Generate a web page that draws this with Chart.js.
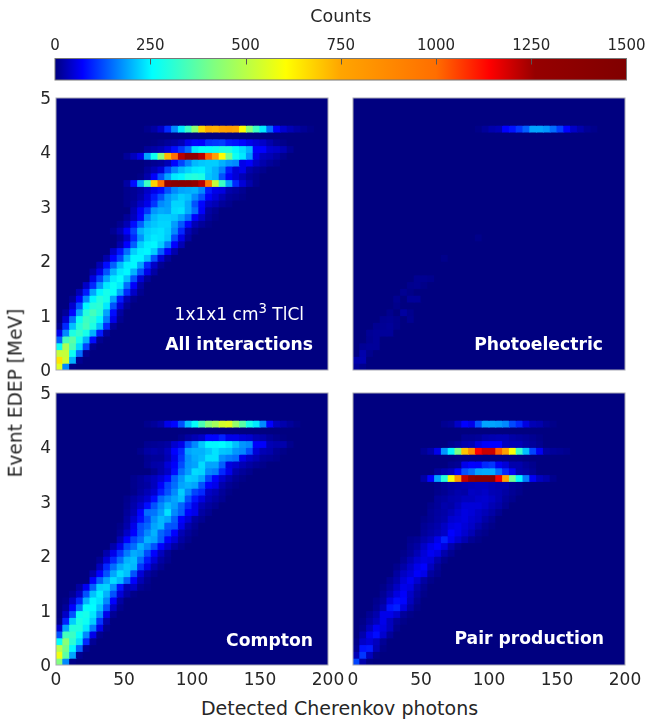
<!DOCTYPE html>
<html><head><meta charset="utf-8">
<script src="https://cdn.jsdelivr.net/npm/chart.js@4"></script>
<style>
html,body{margin:0;padding:0;background:#fff;width:645px;height:721px;overflow:hidden;font-family:"DejaVu Sans",sans-serif;color:#262626}
canvas{position:absolute}
.t{position:absolute;white-space:nowrap;line-height:1}
.w{color:#fff}
.b{font-weight:bold}
sup{font-size:78%;line-height:0;vertical-align:0.5em}
</style></head><body>
<script>
// Each row entry: [energy row index, first photon-bin index, counts...]
const allRows = [
[0,0,560,170,5],
[1,0,650,530,200,10],
[2,0,520,520,270,150,10],
[3,0,270,480,350,230,120,10],
[4,0,140,340,370,280,200,80,10],
[5,0,60,170,290,320,280,200,90,15],
[6,0,10,100,210,300,340,290,210,100,15],
[7,1,45,150,270,330,310,250,160,60,10],
[8,1,15,75,190,300,340,300,190,80,20],
[9,2,45,130,250,300,310,240,130,50,12],
[10,2,15,70,170,250,300,280,190,90,30,8],
[11,3,30,90,190,250,280,260,190,100,40,10],
[12,4,40,100,180,240,265,240,150,70,20],
[13,5,55,120,190,240,260,210,130,50,15],
[14,5,20,60,130,200,240,250,200,130,60,20],
[15,6,30,80,140,205,245,250,190,100,40,10],
[16,7,25,72,120,200,250,250,210,130,50,15],
[17,8,40,85,150,220,245,250,220,140,70,25],
[18,9,25,72,140,220,245,250,220,160,72,30],
[19,9,12,40,100,175,225,240,235,215,125,60,18],
[20,8,10,30,70,120,200,220,230,235,220,170,100,30,10],
[21,9,10,30,80,140,200,215,225,225,185,135,75,30,15,5],
[22,10,15,35,75,165,205,220,220,215,190,150,70,40,15,5],
[23,11,30,70,110,180,195,190,230,235,195,150,70,20,10],
[24,10,8,18,40,60,110,170,185,225,225,195,130,75,40,30,15,8],
[25,10,8,12,25,50,90,130,180,200,220,210,170,130,70,50,30,15,10,5],
[26,10,8,12,20,40,60,80,130,170,190,195,200,170,90,60,55,25,18,10],
[27,10,20,80,190,330,680,1000,1300,1400,1420,1400,1300,1220,950,520,330,190,100,50,25,8],
[28,12,5,25,70,130,190,240,250,290,300,290,215,200,130,70,50,30,15,8],
[29,13,15,30,50,120,170,205,225,240,245,220,200,165,90,50,60,25,15,8],
[30,13,5,10,15,30,75,120,165,205,215,220,220,200,180,170,60,70,40,25,15,8],
[31,10,15,35,60,190,270,430,720,1000,1220,1300,1320,1220,1020,780,610,400,270,240,180,60,35,30,20,8],
[32,13,15,22,30,50,80,110,150,240,260,260,270,290,290,250,230,200,72,72,45,40,30,12],
[33,14,3,8,15,20,30,60,75,72,105,110,115,90,85,75,60,50,40,25,12,6],
[35,13,8,20,40,100,170,240,330,440,670,740,730,770,790,760,610,430,330,240,150,72,45,30,20,12,5]
];
const photoRows = [
[0,0,15,8],
[1,0,25,28],
[2,1,25,8],
[3,1,12,15,15],
[4,2,10,15],
[5,2,12,15,15,15],
[6,3,10,12,15,8],
[7,4,10,12,8,0,10],
[8,5,8,0,18,8],
[9,6,6],
[10,6,10,0,15,15],
[11,7,10,5],
[12,8,8,10,5],
[13,9,10,10,8],
[16,13,6],
[19,18,6],
[35,18,5,15,25,30,72,85,110,140,190,190,180,150,115,72,40,25,12,6]
];
const comptonRows = [
[0,0,420,170,5],
[1,0,580,370,190,10],
[2,0,500,400,250,140,12],
[3,0,260,430,310,230,100,12],
[4,0,130,340,330,260,170,60,8],
[5,0,45,190,300,300,240,160,60,8],
[6,0,5,95,220,290,270,220,110,25],
[7,1,40,130,270,280,240,170,60,12],
[8,1,15,72,160,260,255,210,130,40,8],
[9,1,5,40,100,200,250,235,170,72,20],
[10,2,12,40,130,210,245,200,130,50,20,5],
[11,3,20,65,140,220,225,175,85,30,40,12,5],
[12,5,72,140,190,230,205,140,72,30,10],
[13,5,25,72,130,190,230,210,130,50,20,8],
[14,6,35,100,150,195,215,205,110,60,25,10],
[15,6,12,50,100,150,200,210,150,90,50,20,8],
[16,7,25,60,110,160,195,185,125,72,35,12],
[17,8,25,60,125,150,200,170,130,72,45,20,8],
[18,9,30,72,120,150,200,190,140,72,50,20,8],
[19,9,12,40,72,130,170,200,145,120,72,30,15,5],
[20,9,6,25,60,125,145,190,205,135,130,60,25,12],
[21,10,20,45,80,125,175,205,190,140,72,50,20,10],
[22,10,15,30,72,150,155,185,235,170,140,72,60,20,10],
[23,10,10,25,45,80,130,170,205,185,145,100,60,30,18,10],
[24,10,8,20,30,45,80,145,170,190,210,130,85,55,30,20,10],
[25,11,6,18,30,45,90,130,170,220,170,120,100,40,30,15,5],
[26,11,8,15,20,35,70,120,150,190,200,190,130,72,60,25,12,5],
[27,11,8,15,25,35,50,75,140,180,220,215,190,120,72,45,25,12,5],
[28,14,10,25,40,80,150,185,230,225,170,160,100,60,25,15,8],
[29,13,12,22,25,50,70,125,180,190,230,190,190,140,55,45,30,20,12,6],
[30,13,10,15,15,30,60,110,175,195,205,235,235,175,160,150,60,40,30,15,12,8],
[31,12,8,20,25,20,35,72,100,190,200,200,215,235,215,210,180,170,130,50,30,25,12,5],
[32,13,10,12,15,20,45,60,130,170,215,250,250,255,240,210,180,170,70,70,30,25,25,8],
[33,18,8,20,30,40,75,75,95,60,60,50,45,30,25,15,8,3],
[35,13,8,15,25,60,75,130,210,260,350,430,470,540,560,450,370,280,240,170,72,35,25,15,6]
];
const pairRows = [
[0,0,120,25,3],
[1,0,30,110,35,5],
[2,0,10,85,90,30,5],
[3,0,5,40,50,35,12],
[4,1,25,60,80,45,15],
[5,1,10,35,65,55,35,8],
[6,1,5,20,35,60,35,15,5],
[7,2,12,25,60,60,45,15,5],
[8,3,12,30,85,95,55,22,5],
[9,3,8,18,55,80,75,35,12],
[10,4,12,30,55,70,40,18,5],
[11,4,5,18,38,60,55,25,10],
[12,5,12,25,50,65,45,20,6],
[13,6,18,38,50,70,60,18,8],
[14,6,8,22,40,60,72,35,12],
[15,7,12,28,45,55,50,25,8],
[16,7,6,15,30,50,65,55,25,10],
[17,8,12,20,40,60,72,55,25,8],
[18,8,8,12,25,35,60,95,65,45,28,12,5],
[19,10,15,22,30,40,72,60,45,30,12,6],
[20,10,12,18,25,38,55,60,50,40,25,12,5],
[21,10,6,12,20,25,45,50,55,45,38,22,12],
[22,11,12,18,22,32,45,55,50,40,32,22,10],
[23,11,8,15,25,22,35,50,50,50,42,30,22,10],
[24,12,15,18,25,28,35,35,42,45,38,28,15,8],
[25,12,6,10,18,25,22,38,35,40,30,28,20,12,6],
[26,12,5,12,18,22,28,32,35,35,30,25,25,12,8],
[27,10,22,72,190,300,590,800,1210,1300,1400,1400,1420,1150,760,400,250,160,65,35,25,8],
[28,12,15,25,35,72,130,150,190,195,195,150,100,65,25,20,12],
[29,14,8,12,60,72,70,100,110,65,50,25,25,15,8],
[30,15,3,3,3,3,3,3,3,3,3,3],
[31,10,12,25,60,180,250,410,700,860,1140,1200,1200,1020,770,600,330,210,120,65,20,15,12,8],
[32,14,8,15,25,30,55,70,72,72,35,30,30,20,15,8],
[33,16,12,12,15,25,28,30,30,22,18,15,10,5],
[35,13,10,15,40,72,60,130,190,190,185,170,125,100,55,30,25,12,5]
];
const xTicks = [0,50,100,150,200];
const yTicks = [0,1,2,3,4,5];
const cbTicks = [0,250,500,750,1000,1250,1500];
const cmapCounts = [0,72,255,417,606,750,1000,1140,1260,1500];
const cmapColors = [[0,0,128],[0,0,255],[0,255,255],[128,255,128],[255,255,0],[255,165,0],[255,110,0],[255,0,0],[150,0,0],[128,0,0]];

const BINS = 40, XMAX = 200, YMAX = 5;
const INK = '#262626', EDGE = '#a8a8b4';
const FONT = '"DejaVu Sans", sans-serif';

function colorOf(v){
  v = Math.min(Math.max(v,0),1500);
  for(let k=1;k<cmapCounts.length;k++){
    if(v<=cmapCounts[k]){
      const f=(v-cmapCounts[k-1])/(cmapCounts[k]-cmapCounts[k-1]);
      const a=cmapColors[k-1],b=cmapColors[k];
      return `rgb(${a.map((c,i)=>Math.round(c+(b[i]-c)*f)).join(',')})`;
    }
  }
}
function cells(rows){
  const g=Array.from({length:BINS},()=>new Array(BINS).fill(0));
  rows.forEach(r=>{for(let i=2;i<r.length;i++)g[r[0]][r[1]+i-2]=r[i];});
  const out=[],dx=XMAX/BINS,dy=YMAX/BINS;
  for(let j=0;j<BINS;j++)for(let i=0;i<BINS;i++)
    out.push({x:(i+.5)*dx,y:[j*dy,(j+1)*dy],v:g[j][i]});
  return out;
}
const frame={id:'frame',afterDatasetsDraw(c){
  const a=c.chartArea,x=c.ctx;
  x.save();x.strokeStyle=EDGE;x.lineWidth=1;
  x.strokeRect(a.left,a.top,a.right-a.left,a.bottom-a.top);x.restore();
}};
function panel(rows,left,top,showX,showY){
  const L=36,R=24,T=12,B=30,W=272,H=272;
  const cv=document.createElement('canvas');
  cv.width=W+L+R;cv.height=H+T+B;
  cv.style.left=(left-L)+'px';cv.style.top=(top-T)+'px';
  document.body.appendChild(cv);
  new Chart(cv,{
    type:'bar',
    data:{datasets:[{data:cells(rows),
      backgroundColor:c=>c.raw?colorOf(c.raw.v):colorOf(0),
      borderWidth:0,inflateAmount:0.5,barPercentage:1,categoryPercentage:1}]},
    plugins:[frame],
    options:{responsive:false,animation:false,events:[],
      layout:{padding:{left:0,right:R,top:T,bottom:0}},
      plugins:{legend:{display:false},tooltip:{enabled:false}},
      scales:{
        x:{type:'linear',min:0,max:XMAX,offset:false,grid:{display:false,drawTicks:false},border:{display:false},
           afterBuildTicks:s=>{s.ticks=xTicks.map(v=>({value:v}));},
           afterFit:s=>{s.height=B;s.paddingLeft=0;s.paddingRight=0;},
           ticks:{display:showX,maxRotation:0,autoSkip:false,padding:5,color:INK,font:{family:FONT,size:17}}},
        y:{type:'linear',min:0,max:YMAX,grid:{display:false,drawTicks:false},border:{display:false},
           afterBuildTicks:s=>{s.ticks=yTicks.map(v=>({value:v}));},
           afterFit:s=>{s.width=L;s.paddingTop=0;s.paddingBottom=0;},
           ticks:{display:showY,padding:5,labelOffset:1.5,color:INK,font:{family:FONT,size:17}}}
      }}
  });
}
panel(allRows,55.5,98,false,true);
panel(photoRows,353,98,false,false);
panel(comptonRows,55.5,393,true,true);
panel(pairRows,353,393,true,false);

// colour bar
(function(){
  const cv=document.createElement('canvas');
  cv.width=645;cv.height=90;cv.style.left='0';cv.style.top='0';
  document.body.appendChild(cv);
  const insideTicks={id:'insideTicks',afterDatasetsDraw(c){
    const s=c.scales.x,a=c.chartArea,x=c.ctx;
    x.save();x.strokeStyle='#555';x.lineWidth=1;
    cbTicks.slice(1,-1).forEach(v=>{const p=Math.round(s.getPixelForValue(v))+.5;
      x.beginPath();x.moveTo(p,a.top);x.lineTo(p,a.top+6);x.stroke();});
    x.strokeStyle='#777';
    x.strokeRect(a.left,a.top,a.right-a.left,a.bottom-a.top);
    x.restore();
  }};
  new Chart(cv,{
    type:'bar',
    data:{labels:['Counts'],datasets:[{data:[[0,1500]],borderWidth:0,barPercentage:1,categoryPercentage:1,
      backgroundColor:c=>{
        const a=c.chart.chartArea;
        if(!a)return colorOf(0);
        const g=c.chart.ctx.createLinearGradient(a.left,0,a.right,0);
        cmapCounts.forEach((v,i)=>g.addColorStop(v/1500,`rgb(${cmapColors[i].join(',')})`));
        return g;
      }}]},
    plugins:[insideTicks],
    options:{indexAxis:'y',responsive:false,animation:false,events:[],
      layout:{padding:{left:55,right:18.5,top:0,bottom:10}},
      plugins:{legend:{display:false},tooltip:{enabled:false}},
      scales:{
        x:{type:'linear',position:'top',min:0,max:1500,grid:{display:false,drawTicks:false},border:{display:false},
           afterBuildTicks:s=>{s.ticks=cbTicks.map(v=>({value:v}));},
           afterFit:s=>{s.height=58.5;s.paddingLeft=0;s.paddingRight=0;},
           title:{display:true,text:'Counts',color:INK,font:{family:FONT,size:17.5},padding:{top:7,bottom:8}},
           ticks:{callback:v=>String(v),maxRotation:0,autoSkip:false,padding:3,color:INK,font:{family:FONT,size:15}}},
        y:{display:false}
      }}
  });
})();

// text
function addText(html,css,cls){
  const d=document.createElement('div');d.className='t '+(cls||'');d.innerHTML=html;d.style.cssText=css;document.body.appendChild(d);
}
addText('Detected Cherenkov photons','left:339.5px;top:699px;font-size:19px;transform:translateX(-50%)');
addText('Event EDEP [MeV]','left:16px;top:393px;font-size:18.6px;transform:translate(-50%,-50%) rotate(-90deg)');
addText('1x1x1 cm<sup>3</sup> TlCl','right:341px;top:306px;font-size:17px','w');
addText('All interactions','right:332px;top:335.5px;font-size:17.2px','w b');
addText('Photoelectric','right:42px;top:335.5px;font-size:17.2px','w b');
addText('Compton','right:332px;top:631.5px;font-size:17.2px','w b');
addText('Pair production','right:41px;top:629.5px;font-size:17.2px','w b');
</script>
</body></html>
